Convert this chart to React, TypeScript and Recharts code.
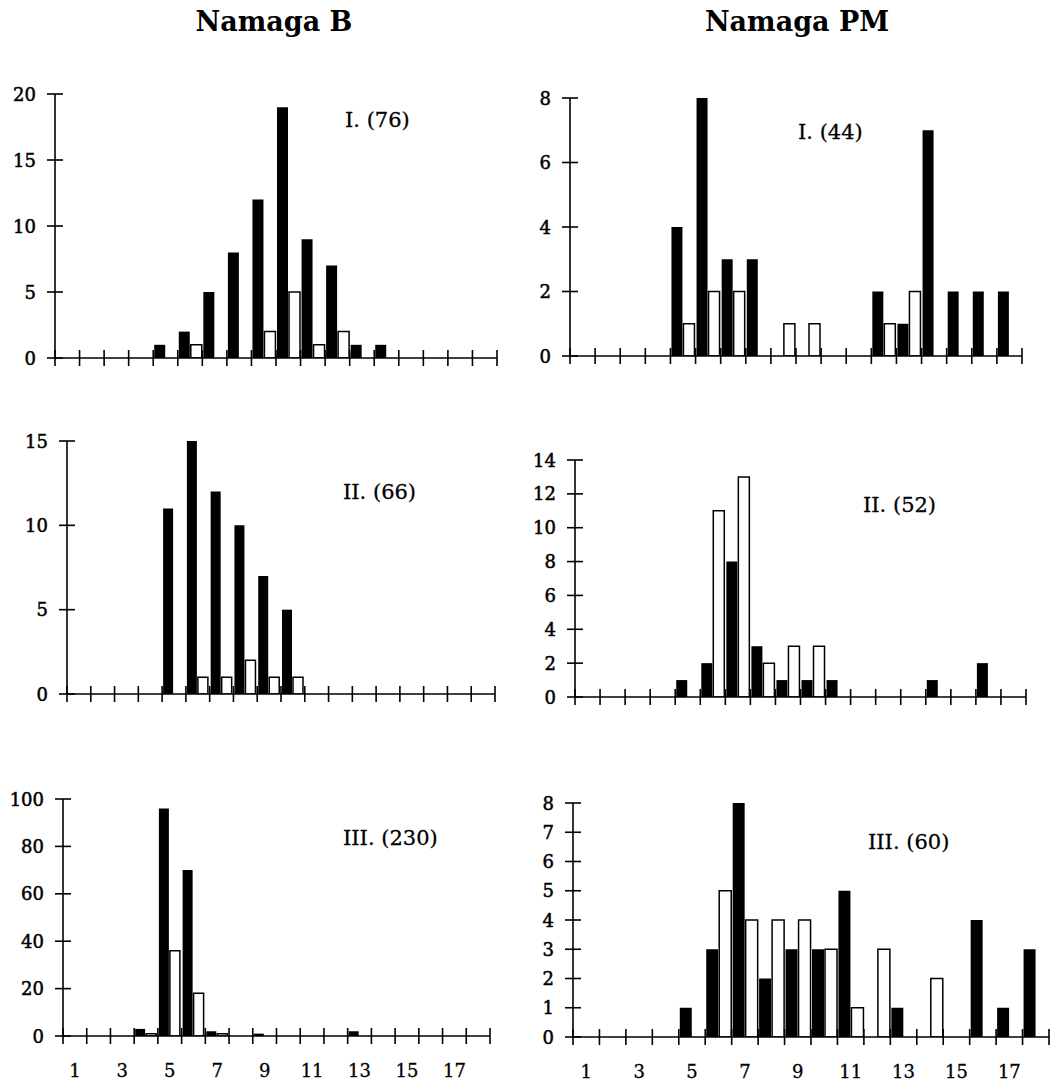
import React from 'react';
import { BarChart, Bar, XAxis, YAxis } from 'recharts';

const CATEGORIES = [1,2,3,4,5,6,7,8,9,10,11,12,13,14,15,16,17,18];
const BOUNDARY_TICKS = [0.5,1.5,2.5,3.5,4.5,5.5,6.5,7.5,8.5,9.5,10.5,11.5,12.5,13.5,14.5,15.5,16.5,17.5,18.5];
const LABEL_TICKS = [1,3,5,7,9,11,13,15,17];

const B1_BLACK = [0,0,0,0,1,2,5,8,12,19,9,7,1,1,0,0,0,0];
const B1_WHITE = [0,0,0,0,0,1,0,0,2,5,1,2,0,0,0,0,0,0];
const PM1_BLACK = [0,0,0,0,4,8,3,3,0,0,0,0,2,1,7,2,2,2];
const PM1_WHITE = [0,0,0,0,1,2,2,0,1,1,0,0,1,2,0,0,0,0];
const B2_BLACK = [0,0,0,0,11,15,12,10,7,5,0,0,0,0,0,0,0,0];
const B2_WHITE = [0,0,0,0,0,1,1,2,1,1,0,0,0,0,0,0,0,0];
const PM2_BLACK = [0,0,0,0,1,2,8,3,1,1,1,0,0,0,1,0,2,0];
const PM2_WHITE = [0,0,0,0,0,11,13,2,3,3,0,0,0,0,0,0,0,0];
const B3_BLACK = [0,0,0,3,96,70,2,0,1,0,0,0,2,0,0,0,0,0];
const B3_WHITE = [0,0,0,1,36,18,1,0,0,0,0,0,0,0,0,0,0,0];
const PM3_BLACK = [0,0,0,0,1,3,8,2,3,3,5,0,1,0,0,4,1,3];
const PM3_WHITE = [0,0,0,0,0,5,4,4,4,3,1,3,0,2,0,0,0,0];

const B1_YTICKS = [0,5,10,15,20];
const PM1_YTICKS = [0,2,4,6,8];
const B2_YTICKS = [0,5,10,15];
const PM2_YTICKS = [0,2,4,6,8,10,12,14];
const B3_YTICKS = [0,20,40,60,80,100];
const PM3_YTICKS = [0,1,2,3,4,5,6,7,8];

const TITLES = ['Namaga B', 'Namaga PM'];
const ANNOTATIONS = ['I. (76)', 'I. (44)', 'II. (66)', 'II. (52)', 'III. (230)', 'III. (60)'];

const FONT = '"DejaVu Serif", serif';

const build = (black: number[], white: number[]) =>
  CATEGORIES.map((c, i) => ({ cat: String(c), num: c, black: black[i], white: white[i] }));

const X_TICKS = [...BOUNDARY_TICKS, ...LABEL_TICKS].sort((a, b) => a - b);

const XTick = (props: any) => {
  const { x, y, payload, showLabels } = props;
  const v = payload.value;
  if (Number.isInteger(v)) {
    if (!showLabels) return <g />;
    return (
      <text x={x} y={y + 34} textAnchor="middle" dominantBaseline="central"
        fontFamily={FONT} fontSize={18} fill="#000" stroke="#000" strokeWidth={0.3}>{v}</text>
    );
  }
  return <line x1={x} x2={x} y1={y - 8} y2={y + 8} stroke="#000" strokeWidth={1.6} />;
};

const YTick = (props: any) => {
  const { x, y, payload } = props;
  return (
    <g>
      <line x1={x - 8} x2={x + 8} y1={y} y2={y} stroke="#000" strokeWidth={1.6} />
      <text x={x - 19} y={y} textAnchor="end" dominantBaseline="central"
        fontFamily={FONT} fontSize={18} fill="#000" stroke="#000" strokeWidth={0.5}>{payload.value}</text>
    </g>
  );
};

type PanelProps = {
  plotLeft: number; plotRight: number; plotTop: number; zero: number;
  black: number[]; white: number[]; yTicks: number[]; showLabels: boolean;
};

const YW = 60;
const XH = 46;
const MT = 10;
const MR = 10;

const Panel = ({ plotLeft, plotRight, plotTop, zero, black, white, yTicks, showLabels }: PanelProps) => {
  const left = plotLeft - YW;
  const top = plotTop - MT;
  const width = plotRight + MR - left;
  const height = zero + XH - top;
  const data = build(black, white);
  const yMax = yTicks[yTicks.length - 1];
  return (
    <div style={{ position: 'absolute', left, top, width, height }}>
      <BarChart width={width} height={height} data={data}
        margin={{ top: MT, right: MR, left: 0, bottom: 0 }}
        barCategoryGap={1} barGap={1}>
        <XAxis xAxisId="cat" dataKey="cat" hide height={0} />
        <XAxis xAxisId="ticks" dataKey="num" type="number" domain={[0.5, 18.5]} ticks={X_TICKS}
          allowDataOverflow interval={0} height={XH} tickSize={0} tickMargin={0}
          tickLine={false} axisLine={{ stroke: '#000', strokeWidth: 1.6 }}
          tick={(p: any) => <XTick {...p} showLabels={showLabels} />} />
        <YAxis width={YW} domain={[0, yMax]} ticks={yTicks} interval={0}
          allowDataOverflow tickSize={0} tickMargin={0} tickLine={false}
          axisLine={{ stroke: '#000', strokeWidth: 1.6 }}
          tick={(p: any) => <YTick {...p} />} />
        <Bar xAxisId="cat" dataKey="black" fill="#000" isAnimationActive={false} />
        <Bar xAxisId="cat" dataKey="white" fill="#fff" stroke="#000" strokeWidth={1.5} isAnimationActive={false} />
      </BarChart>
    </div>
  );
};

export default function App() {
  return (
    <div style={{ position: 'absolute', left: 0, top: 0, width: 1062, height: 1082, background: '#fff', overflow: 'hidden' }}>
      <Panel plotLeft={55} plotRight={497} plotTop={94} zero={358} black={B1_BLACK} white={B1_WHITE} yTicks={B1_YTICKS} showLabels={false} />
      <Panel plotLeft={570} plotRight={1022} plotTop={98} zero={356} black={PM1_BLACK} white={PM1_WHITE} yTicks={PM1_YTICKS} showLabels={false} />
      <Panel plotLeft={67} plotRight={495} plotTop={441} zero={694} black={B2_BLACK} white={B2_WHITE} yTicks={B2_YTICKS} showLabels={false} />
      <Panel plotLeft={575} plotRight={1026} plotTop={460} zero={697} black={PM2_BLACK} white={PM2_WHITE} yTicks={PM2_YTICKS} showLabels={false} />
      <Panel plotLeft={63} plotRight={490} plotTop={799} zero={1036} black={B3_BLACK} white={B3_WHITE} yTicks={B3_YTICKS} showLabels={true} />
      <Panel plotLeft={573} plotRight={1049} plotTop={803} zero={1037} black={PM3_BLACK} white={PM3_WHITE} yTicks={PM3_YTICKS} showLabels={true} />
      <svg width={1062} height={1082} style={{ position: 'absolute', left: 0, top: 0, pointerEvents: 'none' }}>
        <text x={274} y={31} textAnchor="middle" fontFamily={FONT} fontWeight="bold" fontSize={27} fill="#000">{TITLES[0]}</text>
        <text x={797} y={31} textAnchor="middle" fontFamily={FONT} fontWeight="bold" fontSize={27} fill="#000">{TITLES[1]}</text>
        <text x={345} y={120} dominantBaseline="central" fontFamily={FONT} fontSize={21} fill="#000" stroke="#000" strokeWidth={0.3}>{ANNOTATIONS[0]}</text>
        <text x={798} y={132} dominantBaseline="central" fontFamily={FONT} fontSize={21} fill="#000" stroke="#000" strokeWidth={0.3}>{ANNOTATIONS[1]}</text>
        <text x={343} y={492} dominantBaseline="central" fontFamily={FONT} fontSize={21} fill="#000" stroke="#000" strokeWidth={0.3}>{ANNOTATIONS[2]}</text>
        <text x={863} y={505} dominantBaseline="central" fontFamily={FONT} fontSize={21} fill="#000" stroke="#000" strokeWidth={0.3}>{ANNOTATIONS[3]}</text>
        <text x={343} y={838} dominantBaseline="central" fontFamily={FONT} fontSize={21} fill="#000" stroke="#000" strokeWidth={0.3}>{ANNOTATIONS[4]}</text>
        <text x={868} y={842} dominantBaseline="central" fontFamily={FONT} fontSize={21} fill="#000" stroke="#000" strokeWidth={0.3}>{ANNOTATIONS[5]}</text>
      </svg>
    </div>
  );
}
